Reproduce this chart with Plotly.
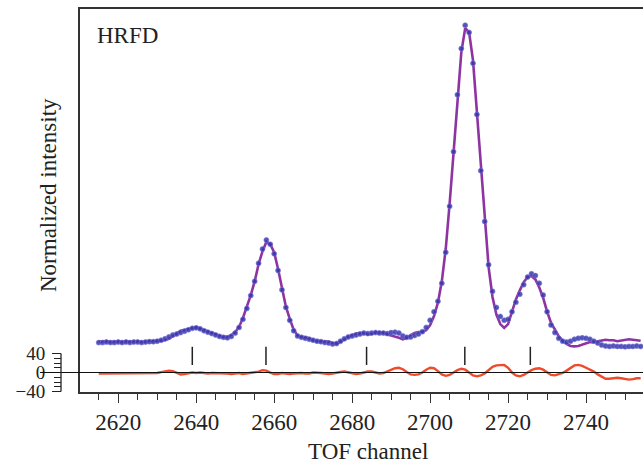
import plotly.graph_objects as go

# ---------------- data ----------------
channel_start = 2615
observed = [
    63, 63, 64, 63, 63, 64, 63, 64, 63, 64,      # 2615-2624
    64, 63, 64, 65, 65, 66, 68, 71, 75, 79,      # 2625-2634
    81, 84, 87, 90, 93, 94, 92, 88, 85, 82,      # 2635-2644
    79, 76, 74, 73, 76, 83, 95, 112, 135, 162,   # 2645-2654
    192, 230, 260, 279, 270, 250, 215, 174, 137, 110,  # 2655-2664
    88, 77, 74, 72, 70, 68, 66, 65, 63, 62,      # 2665-2674
    60, 61, 66, 71, 75, 77, 79, 81, 83, 82,      # 2675-2684
    83, 84, 83, 83, 82, 84, 85, 83, 77, 74,      # 2685-2694
    75, 78, 81, 86, 95, 110, 128, 150, 188, 253, # 2695-2704
    350, 465, 585, 682, 731, 716, 651, 543, 425, 318,  # 2705-2714
    227, 171, 137, 118, 110, 112, 128, 148, 165, 185,  # 2715-2724
    201, 208, 204, 188, 163, 128, 100, 84, 72, 66,     # 2725-2734
    64, 66, 70, 72, 73, 72, 70, 66, 62, 58,      # 2735-2744
    56, 55, 56, 55, 55, 54, 55, 55, 56, 55,      # 2745-2754
]
difference = [
    -2, -2, -2, -1, -2, -2, -1, -2, -2, -1,      # 2615-2624
    -2, -1, -2, -2, -1, -1, 1, 3, 4, 3,          # 2625-2634
    -1, -4, -3, -1, 0, -1, 0, -1, -2, -1,        # 2635-2644
    -1, -2, -1, -2, -3, -2, -1, -3, -2, -1,      # 2645-2654
    0, 2, 5, 4, 0, -3, -3, -1, -2, -3,           # 2655-2664
    -2, -1, -1, -2, -2, 0, 0, -1, -2, -3,        # 2665-2674
    -2, 0, 1, 2, 0, -2, -3, -2, 0, 2,            # 2675-2684
    2, 0, -2, -1, 2, 6, 9, 10, 7, 1,             # 2685-2694
    -4, -5, -4, 0, 6, 10, 9, 3, -4, -7,          # 2695-2704
    -5, 0, 5, 8, 6, 0, -6, -8, -6, -2,           # 2705-2714
    5, 12, 15, 16, 16, 10, 0, -6, -8, -5,        # 2715-2724
    0, 5, 8, 9, 6, 0, -5, -6, -4, -1,            # 2725-2734
    4, 10, 15, 16, 14, 10, 6, 2, -4, -9,         # 2735-2744
    -13, -13, -12, -11, -12, -14, -15, -14, -12, -12,  # 2745-2754
]
channels = [channel_start + i for i in range(len(observed))]
calculated = [o - d for o, d in zip(observed, difference)]

peak_positions = [2639.0, 2657.9, 2683.7, 2708.9, 2725.7]
peak_marker_level = [35] * len(peak_positions)

x_tick_values = [2620, 2640, 2660, 2680, 2700, 2720, 2740]
x_tick_labels = ["2620", "2640", "2660", "2680", "2700", "2720", "2740"]
diff_major_ticks = [-40, 0, 40]
diff_major_labels = ["\u221240", "0", "40"]
diff_minor_ticks = [-30, -20, -10, 10, 20, 30]

# ---------------- figure ----------------
FONT = "Liberation Serif, Times New Roman, serif"
W, H = 643, 465
ML, MR, MT, MB = 40, 0, 9, 73
PW = W - ML - MR
PH = H - MT - MB
x_dom0 = (80 - ML) / PW
ruler_pos = (61 - ML) / PW

fig = go.Figure()

fig.add_trace(go.Scatter(
    x=channels, y=difference, mode="lines",
    line=dict(color="#f04a2a", width=2.4), name="difference",
    hoverinfo="skip", showlegend=False))

fig.add_trace(go.Scatter(
    x=channels, y=calculated, mode="lines",
    line=dict(color="#8e34a2", width=2.6), name="calculated",
    showlegend=False))

fig.add_trace(go.Scatter(
    x=channels, y=observed, mode="markers",
    marker=dict(symbol="circle", size=5, color="rgba(55,55,170,0.85)",
                line=dict(color="rgba(120,120,220,0.8)", width=0.8)),
    name="observed", showlegend=False))

fig.add_trace(go.Scatter(
    x=peak_positions, y=peak_marker_level, mode="markers",
    marker=dict(symbol="line-ns", size=13, line=dict(color="#222", width=1.5)),
    name="reflections", showlegend=False, hoverinfo="x"))

# invisible trace to activate ruler axis
fig.add_trace(go.Scatter(x=[channels[0]], y=[0], yaxis="y2", mode="markers",
                         marker=dict(opacity=0), showlegend=False, hoverinfo="skip"))

yr = [-41, 765.3]
fig.update_layout(
    width=W, height=H,
    margin=dict(l=ML, r=MR, t=MT, b=MB),
    paper_bgcolor="white", plot_bgcolor="white",
    font=dict(family=FONT, size=23, color="#222"),
    xaxis=dict(
        domain=[x_dom0, 1], range=[2610.2, 2754.6], automargin=False,
        showline=True, linecolor="#333", linewidth=1.6, mirror=True,
        ticks="outside", ticklen=9, tickwidth=1.3, tickcolor="#333",
        tickmode="array", tickvals=x_tick_values, ticktext=x_tick_labels,
        minor=dict(tick0=2610, dtick=5, ticks="outside", ticklen=6,
                   tickwidth=1.3, tickcolor="#333"),
        showgrid=False, zeroline=False,
        tickfont=dict(family=FONT, size=23, color="#222"),
    ),
    yaxis=dict(
        range=yr, showline=True, linecolor="#333", linewidth=1.6, automargin=False,
        ticks="", showticklabels=False, showgrid=False, zeroline=False,
    ),
    yaxis2=dict(
        range=yr, overlaying="y", anchor="free", position=ruler_pos, side="left",
        automargin=False,
        showline=False, showgrid=False, zeroline=False,
        tickmode="array", tickvals=diff_major_ticks, ticktext=diff_major_labels,
        ticks="outside", ticklen=9, tickwidth=1.2, tickcolor="#222",
        minor=dict(tickvals=diff_minor_ticks, ticks="outside", ticklen=7,
                   tickwidth=1.2, tickcolor="#222"),
        ticklabelstandoff=3,
        tickfont=dict(family=FONT, size=19, color="#222"),
    ),
    shapes=[
        dict(type="line", xref="paper", yref="y", x0=0, x1=1, y0=0, y1=0,
             line=dict(color="#111", width=1.2)),
        dict(type="line", xref="paper", yref="y", x0=ruler_pos, x1=ruler_pos,
             y0=-40, y1=40, line=dict(color="#222", width=1.3)),
    ],
    annotations=[
        dict(text="HRFD", xref="paper", yref="paper",
             x=(95 - ML) / PW, y=1 - (35 - MT) / PH,
             xanchor="left", yanchor="middle", showarrow=False,
             font=dict(family=FONT, size=23, color="#222")),
        dict(text="TOF channel", xref="paper", yref="paper",
             x=(368 - ML) / PW, y=-(452 - (H - MB)) / PH,
             xanchor="center", yanchor="middle", showarrow=False,
             font=dict(family=FONT, size=23, color="#222")),
        dict(text="Normalized intensity", xref="paper", yref="paper",
             x=(48 - ML) / PW, y=1 - (195 - MT) / PH,
             xanchor="center", yanchor="middle", showarrow=False, textangle=-90,
             font=dict(family=FONT, size=23, color="#222")),
    ],
)

fig.write_html("out.html",
               config={"displayModeBar": False},
               post_script="document.body.style.margin='0';document.body.style.overflow='hidden';")
